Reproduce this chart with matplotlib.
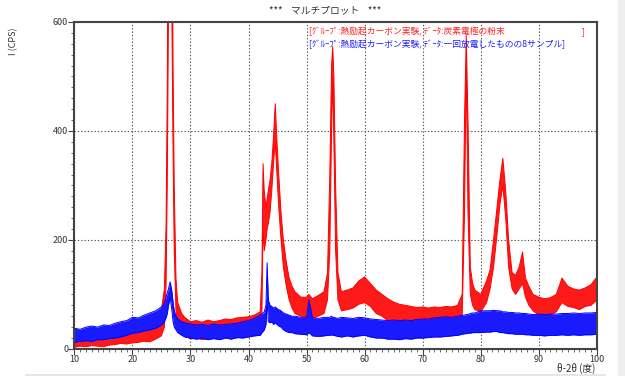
import matplotlib
matplotlib.use("Agg")
import matplotlib.pyplot as plt
from matplotlib.ticker import MultipleLocator
from matplotlib.patches import Rectangle

plt.rcParams["font.family"] = ["Noto Sans CJK JP", "DejaVu Sans"]

# --- data: 2theta and the noise band (low / high) of each trace ---
two_theta = [10, 11, 12, 13, 14, 15, 16, 17, 18, 19, 20, 21, 22, 23, 24, 25,
             25.5, 25.8, 26.0, 26.2, 26.5, 26.8, 27.0, 27.2, 27.5, 27.8, 28.5, 29,
             30, 31, 32, 33, 34, 35, 36, 37, 38, 39, 40, 41, 42,
             42.3, 42.5, 42.7, 43.0, 43.2, 43.4, 43.7, 44.0, 44.3, 44.6, 44.9, 45.2,
             45.6, 46.0, 46.5, 47.0, 47.5, 48, 49, 50, 50.4, 51, 52, 53,
             53.6, 54.0, 54.3, 54.5, 54.7, 55.0, 55.4, 56, 57, 58, 59, 60, 61, 62,
             63, 64, 65, 66, 67, 68, 69, 70, 71, 72, 73, 74, 75, 76,
             76.8, 77.2, 77.5, 77.8, 78.2, 78.6, 79, 80, 81, 81.6, 82.2, 82.8,
             83.3, 83.8, 84.3, 84.8, 85.4, 86, 86.6, 87.2, 87.7, 88.3, 89,
             90, 91, 92, 93, 94, 95, 96, 97, 98, 99, 100]

red_low = [3, 5, 4, 6, 5, 4, 7, 8, 10, 9, 11, 12, 14, 13, 18, 24,
           40, 120, 300, 600, 1100, 600, 360, 180, 70, 45, 30, 25,
           18, 20, 17, 19, 20, 18, 21, 22, 20, 24, 22, 27, 30,
           60, 230, 180, 200, 220, 230, 250, 290, 340, 380, 320, 260,
           200, 150, 115, 90, 75, 65, 60, 58, 60, 55, 60, 65,
           90, 180, 400, 500, 380, 180, 90, 70, 72, 75, 82, 85, 78, 65,
           60, 52, 48, 45, 44, 42, 40, 41, 40, 42, 40, 42, 41, 45,
           60, 250, 520, 250, 100, 80, 72, 68, 85, 110, 150, 210,
           265, 300, 240, 150, 110, 100, 110, 120, 95, 80, 70,
           62, 60, 62, 68, 85, 78, 76, 72, 78, 80, 90]

red_high = [28, 30, 32, 30, 33, 31, 35, 36, 40, 42, 48, 46, 52, 53, 60, 72,
            110, 230, 480, 900, 1300, 900, 520, 300, 130, 85, 65, 58,
            50, 52, 49, 53, 50, 52, 55, 54, 57, 58, 59, 62, 68,
            140, 340, 290, 260, 275, 290, 310, 340, 390, 450, 380, 320,
            250, 200, 160, 130, 115, 105, 95, 95, 100, 92, 98, 105,
            140, 320, 520, 555, 500, 300, 140, 105, 108, 112, 125, 132, 120, 108,
            100, 92, 86, 82, 80, 78, 76, 77, 75, 77, 76, 78, 77, 80,
            100, 420, 575, 420, 150, 120, 108, 100, 125, 145, 200, 260,
            310, 350, 290, 200, 140, 135, 150, 178, 130, 115, 100,
            95, 92, 94, 100, 130, 115, 110, 108, 112, 118, 132]

blue_low = [12, 14, 15, 14, 17, 17, 19, 20, 22, 25, 29, 30, 33, 35, 38, 44,
            50, 58, 65, 80, 95, 70, 50, 40, 35, 30, 25, 22,
            20, 18, 20, 17, 19, 17, 20, 18, 21, 20, 22, 24, 25,
            30, 32, 35, 45, 90, 50, 48, 50, 45, 48, 45, 42,
            40, 35, 32, 30, 30, 28, 27, 26, 30, 24, 23, 24,
            25, 25, 26, 25, 25, 24, 23, 22, 24, 22, 24, 25, 22, 20,
            20, 18, 18, 17, 19, 18, 20, 20, 21, 22, 22, 23, 24, 25,
            27, 28, 28, 29, 29, 30, 30, 30, 31, 31, 32, 32,
            30, 30, 29, 28, 28, 27, 27, 27, 26, 26, 25,
            25, 24, 25, 25, 26, 25, 26, 25, 26, 26, 27]

blue_high = [38, 36, 40, 42, 40, 44, 43, 47, 50, 52, 58, 57, 62, 66, 70, 77,
             85, 95, 103, 110, 123, 105, 85, 70, 60, 55, 50, 48,
             46, 44, 45, 43, 46, 44, 45, 46, 47, 50, 52, 56, 62,
             64, 66, 68, 80, 158, 90, 80, 78, 75, 77, 74, 72,
             70, 66, 64, 62, 60, 60, 58, 58, 90, 57, 56, 58,
             58, 58, 60, 58, 58, 57, 56, 58, 57, 56, 58, 57, 55, 54,
             53, 52, 53, 52, 53, 52, 54, 55, 55, 57, 58, 59, 58, 60,
             62, 62, 63, 63, 65, 66, 66, 70, 70, 70, 71, 70,
             70, 68, 68, 67, 67, 66, 66, 65, 65, 64, 63,
             64, 63, 64, 64, 65, 65, 66, 65, 66, 66, 67]

x_range = (10, 100)
y_range = (0, 600)

fig = plt.figure(figsize=(6.25, 3.76), dpi=100)
ax = fig.add_axes([0.119, 0.072, 0.836, 0.8695])
ax.set_axisbelow(True)

# red first, blue drawn over it (as in the reference)
ax.fill_between(two_theta, red_low, red_high, color="#ff1a1a", lw=0, zorder=1.0)
ax.plot(two_theta, red_high, color="#ff0000", lw=0.7, zorder=1.1)
ax.plot(two_theta, red_low, color="#ff0000", lw=0.7, zorder=1.1)
ax.fill_between(two_theta, blue_low, blue_high, color="#1a1aff", lw=0, zorder=1.2)
ax.plot(two_theta, blue_high, color="#0000ff", lw=0.7, zorder=1.3)
ax.plot(two_theta, blue_low, color="#0000ff", lw=0.7, zorder=1.3)

ax.set_xlim(*x_range)
ax.set_ylim(*y_range)

ax.xaxis.set_major_locator(MultipleLocator(10))
ax.xaxis.set_minor_locator(MultipleLocator(1))
ax.yaxis.set_major_locator(MultipleLocator(200))
ax.yaxis.set_minor_locator(MultipleLocator(20))
ax.tick_params(which="major", length=4, width=0.8, color="#444444",
               labelsize=6.5, labelcolor="#333333", pad=0.5)
ax.tick_params(which="minor", length=2.5, width=0.6, color="#555555")
ax.grid(True, which="major", ls=(0, (1.2, 1.8)), color="#555555", lw=0.8)

for side in ["left", "bottom", "top", "right"]:
    ax.spines[side].set_color("#444444")
    ax.spines[side].set_linewidth(1.5)

fig.text(0.52, 0.972, "***    マルチプロット    ***", ha="center", va="center",
         fontsize=7, color="#333333")
ax.text(0.449, 0.985, "[ｸﾞﾙｰﾌﾟ:熱励起カーボン実験, ﾃﾞｰﾀ:炭素電極の粉末",
        transform=ax.transAxes, ha="left", va="top", fontsize=6.3, color="#ff2020")
ax.text(0.976, 0.985, "]", transform=ax.transAxes, ha="right", va="top",
        fontsize=6.3, color="#ff2020")
ax.text(0.449, 0.947, "[ｸﾞﾙｰﾌﾟ:熱励起カーボン実験, ﾃﾞｰﾀ:一回放電したものの8サンプル]",
        transform=ax.transAxes, ha="left", va="top", fontsize=6.3, color="#2020ff")

fig.text(0.022, 0.89, "I (CPS)", rotation=90, ha="center", va="center",
         fontsize=6.5, color="#333333")
fig.text(0.953, 0.019, "θ-2θ (度)", ha="right", va="center",
         fontsize=7, color="#333333")

fig.patches.append(Rectangle((0.988, 0.0), 0.012, 1.0, transform=fig.transFigure,
                             facecolor="#eeeeee", edgecolor="none"))
fig.patches.append(Rectangle((0.04, 0.0), 0.93, 0.005, transform=fig.transFigure,
                             facecolor="#e6e6e6", edgecolor="none"))

fig.savefig("out.png", dpi=100, facecolor="white")
